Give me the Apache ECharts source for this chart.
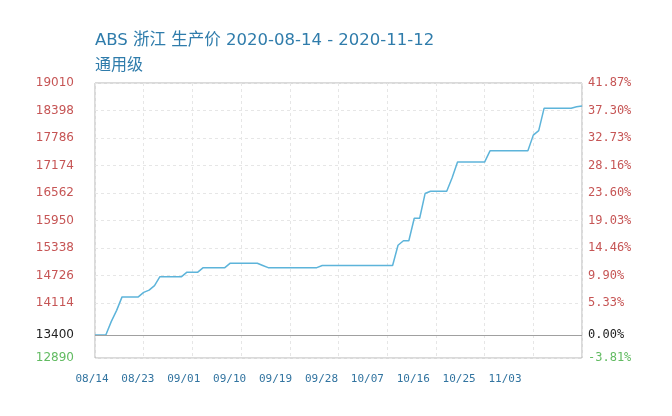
<!DOCTYPE html>
<html>
<head>
<meta charset="utf-8">
<script src="https://cdn.jsdelivr.net/npm/echarts@6/dist/echarts.min.js"></script>
<style>
html,body{margin:0;padding:0;background:#fff;}
#chart{width:672px;height:416px;}
</style>
</head>
<body>
<div id="chart"></div>
<script>
const titleText = 'ABS 浙江 生产价 2020-08-14 - 2020-11-12';
const subTitleText = '通用级';

const dates = [
  '08/14','08/15','08/16','08/17','08/18','08/19','08/20','08/21','08/22','08/23',
  '08/24','08/25','08/26','08/27','08/28','08/29','08/30','08/31','09/01','09/02',
  '09/03','09/04','09/05','09/06','09/07','09/08','09/09','09/10','09/11','09/12',
  '09/13','09/14','09/15','09/16','09/17','09/18','09/19','09/20','09/21','09/22',
  '09/23','09/24','09/25','09/26','09/27','09/28','09/29','09/30','10/01','10/02',
  '10/03','10/04','10/05','10/06','10/07','10/08','10/09','10/10','10/11','10/12',
  '10/13','10/14','10/15','10/16','10/17','10/18','10/19','10/20','10/21','10/22',
  '10/23','10/24','10/25','10/26','10/27','10/28','10/29','10/30','10/31','11/01',
  '11/02','11/03','11/04','11/05','11/06','11/07','11/08','11/09','11/10','11/11',
  '11/12'
];

const prices = [
  13400,13400,13400,13700,13950,14250,14250,14250,14250,14350,
  14400,14500,14700,14700,14700,14700,14700,14800,14800,14800,
  14900,14900,14900,14900,14900,15000,15000,15000,15000,15000,
  15000,14950,14900,14900,14900,14900,14900,14900,14900,14900,
  14900,14900,14950,14950,14950,14950,14950,14950,14950,14950,
  14950,14950,14950,14950,14950,14950,15400,15500,15500,16000,
  16000,16550,16600,16600,16600,16600,16900,17250,17250,17250,
  17250,17250,17250,17500,17500,17500,17500,17500,17500,17500,
  17500,17850,17950,18450,18450,18450,18450,18450,18450,18480,
  18500
];

const xTickLabels = ['08/14','08/23','09/01','09/10','09/19','09/28','10/07','10/16','10/25','11/03'];
const basePrice = 13400;
const yMin = 12890;
const yMax = 19010;
const yStep = 612;
const leftTickValues = [12890,13400,14114,14726,15338,15950,16562,17174,17786,18398,19010];
const leftTickLabels = ['12890','13400','14114','14726','15338','15950','16562','17174','17786','18398','19010'];
const rightTickLabels = ['-3.81%','0.00%','5.33%','9.90%','14.46%','19.03%','23.60%','28.16%','32.73%','37.30%','41.87%'];

function styleKey(i){ return i === 0 ? 'g' : (i === 1 ? 'k' : 'r'); }
function leftFmt(v){
  const i = leftTickValues.indexOf(v);
  if (i < 0) return '';
  return '{' + styleKey(i) + '|' + leftTickLabels[i] + '}';
}
function rightFmt(v){
  const i = leftTickValues.indexOf(v);
  if (i < 0) return '';
  return '{' + styleKey(i) + '|' + rightTickLabels[i] + '}';
}
const red = '#c65555', green = '#62bb62', black = '#222222';
const richLeft = {
  r:{color:red, fontFamily:'DejaVu Sans', fontSize:12},
  g:{color:green, fontFamily:'DejaVu Sans', fontSize:12},
  k:{color:black, fontFamily:'DejaVu Sans', fontSize:12}
};
const richRight = {
  r:{color:red, fontFamily:'DejaVu Sans Mono', fontSize:12},
  g:{color:green, fontFamily:'DejaVu Sans Mono', fontSize:12},
  k:{color:black, fontFamily:'DejaVu Sans Mono', fontSize:12}
};
const gridColor = '#e6e6e6';

const chart = echarts.init(document.getElementById('chart'), null, {renderer:'canvas'});
chart.setOption({
  animation:false,
  backgroundColor:'#ffffff',
  title:[
    {text:titleText, left:95, top:32, padding:0,
     textStyle:{fontSize:16.5, lineHeight:18, fontWeight:'normal', color:'#2f7cab', fontFamily:'DejaVu Sans, Noto Sans CJK SC'}},
    {text:subTitleText, left:95, top:55, padding:0,
     textStyle:{fontSize:16, lineHeight:18, fontWeight:'normal', color:'#2f7cab', fontFamily:'Noto Sans CJK SC'}}
  ],
  grid:[
    {left:95, top:83, width:487, height:275, show:true, borderColor:'#b4b4b4', borderWidth:1, backgroundColor:'transparent'},
    {left:92, top:300, width:413, height:58, show:false}
  ],
  xAxis:[
    {type:'category', gridIndex:0, data:dates, boundaryGap:false,
     axisLine:{show:false}, axisTick:{show:false}, axisLabel:{show:false},
     splitLine:{show:true, interval:8, lineStyle:{color:gridColor, type:[3,3], width:1}}},
    {type:'category', gridIndex:1, data:xTickLabels, boundaryGap:false,
     axisLine:{show:false}, axisTick:{show:false}, splitLine:{show:false},
     axisLabel:{interval:0, margin:16, color:'#3274a0', fontSize:11, fontFamily:'DejaVu Sans Mono'}}
  ],
  yAxis:[
    {type:'value', gridIndex:0, min:yMin, max:yMax, interval:yStep, position:'left',
     axisLine:{show:false}, axisTick:{show:false},
     axisLabel:{customValues:leftTickValues, formatter:leftFmt, rich:richLeft, margin:21},
     splitLine:{show:true, lineStyle:{type:[3,3], width:1,
       color:[gridColor,'rgba(0,0,0,0)',gridColor,gridColor,gridColor,gridColor,gridColor,gridColor,gridColor,gridColor,gridColor]}}},
    {type:'value', gridIndex:0, min:yMin, max:yMax, interval:yStep, position:'right',
     axisLine:{show:false}, axisTick:{show:false}, splitLine:{show:false},
     axisLabel:{customValues:leftTickValues, formatter:rightFmt, rich:richRight, margin:6}},
    {type:'value', gridIndex:1, show:false}
  ],
  series:[{
    type:'line', xAxisIndex:0, yAxisIndex:0, data:prices,
    showSymbol:false, symbol:'none',
    lineStyle:{color:'#5db4da', width:1.5},
    markLine:{silent:true, symbol:['none','none'], animation:false,
      label:{show:false},
      lineStyle:{color:'#a0a0a0', type:'solid', width:1},
      data:[{yAxis:basePrice}]}
  }]
});
</script>
</body>
</html>
